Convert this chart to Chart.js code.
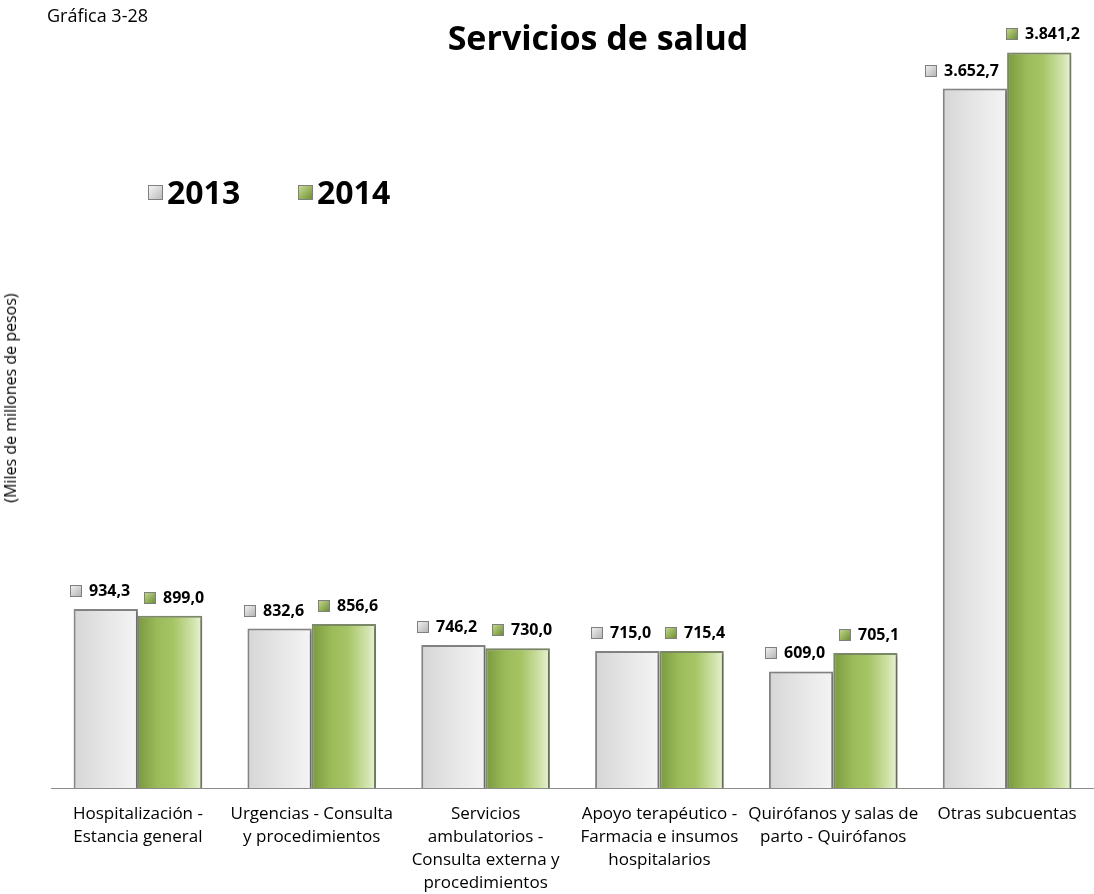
<!DOCTYPE html>
<html>
<head>
<meta charset="utf-8">
<script src="https://cdn.jsdelivr.net/npm/chart.js@4.4.1/dist/chart.umd.min.js"></script>
<style>
  body { margin: 0; background: #fff; font-family: "Open Sans", sans-serif; }
  #wrap { position: relative; width: 1094px; height: 894px; }
  #chart { position: absolute; left: 0; top: 0; }
  .txt { position: absolute; color: #000; white-space: nowrap; }
  #fig { left: 47px; top: 3px; font-size: 18px; }
  #title { left: 0; width: 1196px; top: 14px; text-align: center; font-size: 34px; font-weight: bold; line-height: 46px; }
  #ylab { left: 10px; top: 398px; font-size: 16px; transform: translate(-50%, -50%) rotate(-90deg); }
  .leg { top: 170px; font-size: 32px; font-weight: bold; display: flex; align-items: center; line-height: 44px; }
  .sw { width: 13px; height: 13px; border: 1px solid #7f7f7f; margin-right: 4px; }
</style>
</head>
<body>
<div id="wrap">
  <canvas id="chart" width="1094" height="894"></canvas>
  <div class="txt" id="fig">Gráfica 3-28</div>
  <div class="txt" id="title">Servicios de salud</div>
  <div class="txt" id="ylab">(Miles de millones de pesos)</div>
  <div class="txt leg" style="left:148px"><span class="sw" style="background:linear-gradient(135deg,#f4f4f4,#bcbcbc)"></span>2013</div>
  <div class="txt leg" style="left:298px"><span class="sw" style="background:linear-gradient(135deg,#c8dc96,#6f9030)"></span>2014</div>
</div>
<script>
// Chart data
const categories = [
  ["Hospitalización -", "Estancia general"],
  ["Urgencias - Consulta", "y procedimientos"],
  ["Servicios", "ambulatorios -", "Consulta externa y", "procedimientos"],
  ["Apoyo terapéutico -", "Farmacia e insumos", "hospitalarios"],
  ["Quirófanos y salas de", "parto - Quirófanos"],
  ["Otras subcuentas"]
];
const seriesNames = ["2013", "2014"];
const values2013 = [934.3, 832.6, 746.2, 715.0, 609.0, 3652.7];
const values2014 = [899.0, 856.6, 730.0, 715.4, 705.1, 3841.2];

const CAT_PCT = 0.74;

function fmt(v) {
  const parts = v.toFixed(1).split(".");
  parts[0] = parts[0].replace(/\B(?=(\d{3})+(?!\d))/g, ".");
  return parts.join(",");
}

// horizontal gradient per bar, built from the x scale
function barFill(stops, side) {
  return function (ctx) {
    const chart = ctx.chart;
    const xs = chart.scales && chart.scales.x;
    if (!xs || !chart.chartArea || ctx.dataIndex === undefined) return stops[1][1];
    const center = xs.getPixelForValue(ctx.dataIndex);
    const w = (xs.width / categories.length) * CAT_PCT / 2;
    const x0 = side === 0 ? center - w : center;
    if (!isFinite(x0)) return stops[1][1];
    const g = chart.ctx.createLinearGradient(x0, 0, x0 + w, 0);
    stops.forEach(s => g.addColorStop(s[0], s[1]));
    return g;
  };
}

const grayStops = [[0, "#d6d6d6"], [0.5, "#e6e6e6"], [1, "#f4f4f4"]];
const greenStops = [[0, "#7a9940"], [0.3, "#9bbb59"], [0.55, "#a6c464"], [0.85, "#cfe2a8"], [1, "#eaf3d6"]];

// value labels with small marker above each bar
const valueLabels = {
  id: "valueLabels",
  afterDatasetsDraw(chart) {
    const c = chart.ctx;
    c.save();
    c.font = "bold 16px 'Open Sans', sans-serif";
    c.textBaseline = "middle";
    chart.data.datasets.forEach((ds, di) => {
      const meta = chart.getDatasetMeta(di);
      meta.data.forEach((bar, i) => {
        const text = fmt(ds.data[i]);
        const tw = c.measureText(text).width;
        const total = 12 + 7 + tw;
        let left;
        if (di === 0) left = bar.x + bar.width / 2 - 8 - total;
        else left = bar.x - total / 2 + 4;
        left = Math.round(left);
        const y = Math.round(bar.y - 18);
        const g = c.createLinearGradient(left, y - 6, left + 11, y + 5);
        if (di === 0) { g.addColorStop(0, "#f4f4f4"); g.addColorStop(1, "#b5b5b5"); }
        else { g.addColorStop(0, "#c8dc96"); g.addColorStop(1, "#6f9030"); }
        c.fillStyle = g;
        c.fillRect(left, y - 6, 12, 12);
        c.strokeStyle = "#7f7f7f";
        c.lineWidth = 1;
        c.strokeRect(left + 0.5, y - 5.5, 11, 11);
        c.fillStyle = "#000";
        c.fillText(text, left + 19, y);
      });
    });
    c.restore();
  }
};

const shadow = {
  id: "shadow",
  beforeDatasetsDraw(chart) {
    const c = chart.ctx;
    c.save();
    c.shadowColor = "rgba(0,0,0,0.25)";
    c.shadowBlur = 3;
    c.shadowOffsetX = 2;
    c.shadowOffsetY = 1;
  },
  afterDatasetsDraw(chart) {
    chart.ctx.restore();
  }
};

new Chart(document.getElementById("chart"), {
  type: "bar",
  data: {
    labels: categories,
    datasets: [
      { label: seriesNames[0], data: values2013, backgroundColor: barFill(grayStops, 0), borderColor: "#858585", borderWidth: 2 },
      { label: seriesNames[1], data: values2014, backgroundColor: barFill(greenStops, 1), borderColor: "#7d8a68", borderWidth: 2 }
    ]
  },
  options: {
    responsive: false,
    animation: false,
    layout: { padding: { left: 51, right: 0, top: 22, bottom: 0 } },
    datasets: { bar: { categoryPercentage: CAT_PCT, barPercentage: 1 } },
    plugins: {
      legend: { display: false },
      tooltip: { enabled: false }
    },
    scales: {
      x: {
        grid: { display: false, drawTicks: false },
        border: { color: "#8c8c8c", width: 1 },
        ticks: { color: "#000", font: { family: "Open Sans", size: 17, lineHeight: 1.35 }, padding: 15, maxRotation: 0, autoSkip: false },
        afterFit(scale) { scale.height = 106; }
      },
      y: {
        display: false,
        min: 0,
        max: 4000
      }
    }
  },
  plugins: [shadow, valueLabels]
});
</script>
</body>
</html>
